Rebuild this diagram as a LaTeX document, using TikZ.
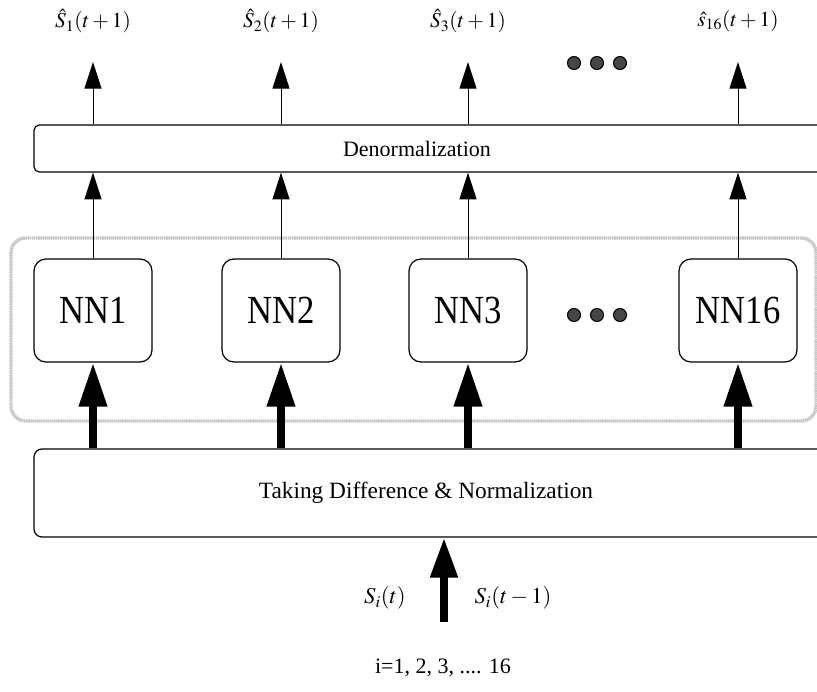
\documentclass[tikz,border=0pt]{standalone}
\usepackage{mathptmx}
\usepackage{graphicx}
\usepackage{fontspec}
\setmainfont{Liberation Serif}
\usetikzlibrary{arrows.meta}
\begin{document}
\begin{tikzpicture}[x=0.75pt,y=-0.75pt,
  bigbox/.style={draw, line width=0.9pt, inner sep=0pt},
  nnbox/.style={draw, rounded corners=9pt, minimum width=88.5pt, minimum height=77.25pt, line width=0.9pt, inner sep=0pt, font=\fontsize{26}{30}\selectfont},
  thinarrow/.style={line width=0.75pt, -{Triangle[width=12.75pt,length=20pt]}},
  thickarrow/.style={line width=6pt, -{Triangle[width=20pt,length=33pt]}},
  lbl/.style={font=\fontsize{16}{19}\selectfont, inner sep=0pt},
  txt/.style={font=\fontsize{16.5}{19}\selectfont, inner sep=0pt},
  dotmark/.style={circle, draw=black, fill=gray!55!black, minimum size=9.75pt, inner sep=0pt, line width=0.8pt}
]
\useasboundingbox (0,0) rectangle (817,692);
\clip (0,0) rectangle (817,692);

% gray group frame
\draw[line width=2.6pt, gray!45, dash pattern=on 1.2pt off 0.4pt, rounded corners=11pt] (11,238) rectangle (816,421);

% denormalization box
\node[bigbox, rounded corners=4pt, minimum width=612pt, minimum height=35.25pt] (denorm) at (442,148.5) {};
\node[txt] (denormtxt) at (417,149) {Denormalization};

% bottom box
\node[bigbox, rounded corners=6pt, minimum width=612pt, minimum height=66pt] (prep) at (442,493) {};
\node[txt, font=\fontsize{17.5}{20}\selectfont] (preptxt) at (426,493) {Taking Difference \& Normalization};

% NN boxes
\node[nnbox] (nn1) at (93,310.5) {\scalebox{1}[1.15]{NN1}};
\node[nnbox] (nn2) at (281,310.5) {\scalebox{1}[1.15]{NN2}};
\node[nnbox] (nn3) at (468,310.5) {\scalebox{1}[1.15]{NN3}};
\node[nnbox] (nn16) at (738,310.5) {\scalebox{1}[1.15]{NN16}};

% dots
\node[dotmark] (d1) at (574,315) {};
\node[dotmark] (d2) at (597,315) {};
\node[dotmark] (d3) at (620,315) {};
\node[dotmark] (e1) at (574,63) {};
\node[dotmark] (e2) at (597,63) {};
\node[dotmark] (e3) at (620,63) {};

% top outputs
\coordinate (o1) at (93,62);
\coordinate (o2) at (281,62);
\coordinate (o3) at (468,62);
\coordinate (o16) at (738,62);
\node[lbl] (l1) at (93,21) {$\hat{S}_1(t+1)$};
\node[lbl] (l2) at (281,21) {$\hat{S}_2(t+1)$};
\node[lbl] (l3) at (468,21) {$\hat{S}_3(t+1)$};
\node[lbl] (l16) at (738,21) {$\hat{s}_{16}(t+1)$};

\foreach \n/\o in {nn1/o1, nn2/o2, nn3/o3, nn16/o16}{
  \draw[thinarrow] (denorm.north -| \n) -- (\o);
  \draw[thinarrow] (\n.north) -- (denorm.south -| \n);
  \draw[thickarrow] (prep.north -| \n) -- (\n.south);
}

% input arrow
\coordinate (src) at (444,622);
\draw[line width=6pt, -{Triangle[width=19.5pt,length=30pt]}] (src) -- (src |- prep.south);
\node[lbl, font=\fontsize{17}{20}\selectfont] (sin1) at (385,598) {$S_i(t)$};
\node[lbl, font=\fontsize{17}{20}\selectfont] (sin2) at (513,598) {$S_i(t-1)$};
\node[txt] (idx) at (443,668) {i=1, 2, 3, .... 16};
\end{tikzpicture}
\end{document}
